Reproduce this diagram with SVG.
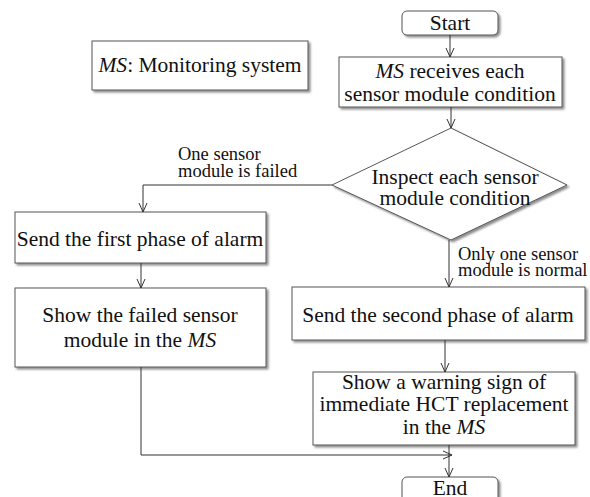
<svg xmlns="http://www.w3.org/2000/svg" width="590" height="497" viewBox="0 0 590 497">
<defs>
<filter id="sh" x="-10%" y="-10%" width="130%" height="140%">
<feDropShadow dx="2" dy="2" stdDeviation="1.2" flood-color="#000" flood-opacity="0.45"/>
</filter>
<marker id="ar" markerWidth="12" markerHeight="10" refX="10" refY="5" orient="auto" markerUnits="userSpaceOnUse">
<path d="M1,1 L10,5 L1,9" fill="none" stroke="#333" stroke-width="1"/>
</marker>
</defs>
<style>
.box{fill:#fff;stroke:#555;stroke-width:1;filter:url(#sh)}
.t{font-size:21.5px;fill:#111;text-anchor:middle}
.l{font-size:18.5px;fill:#111}
.c{fill:none;stroke:#333;stroke-width:1}
</style>
<rect width="590" height="497" fill="#fff"/>
<g font-family="Liberation Serif, Times New Roman, serif">
<g id="legend">
<rect class="box" x="92" y="41" width="216" height="49"/>
<text class="t" x="200" y="72"><tspan font-style="italic">MS</tspan>: Monitoring system</text>
</g>
<g id="start">
<rect class="box" x="402" y="11" width="96" height="24" rx="5"/>
<text class="t" x="450" y="30">Start</text>
</g>
<g id="receive">
<rect class="box" x="339" y="57" width="223" height="50"/>
<text class="t" x="450" y="78"><tspan font-style="italic">MS</tspan> receives each</text>
<text class="t" x="450" y="101">sensor module condition</text>
</g>
<g id="inspect">
<polygon class="box" points="451,128 567,185 451,240 332,185"/>
<text class="t" x="455" y="184">Inspect each sensor</text>
<text class="t" x="455" y="205">module condition</text>
</g>
<g id="first">
<rect class="box" x="15" y="212" width="251" height="51"/>
<text class="t" x="140" y="246">Send the first phase of alarm</text>
</g>
<g id="showfailed">
<rect class="box" x="15" y="288" width="251" height="79"/>
<text class="t" x="140" y="322">Show the failed sensor</text>
<text class="t" x="140" y="347">module in the <tspan font-style="italic">MS</tspan></text>
</g>
<g id="second">
<rect class="box" x="292" y="287" width="293" height="53"/>
<text class="t" x="438" y="322">Send the second phase of alarm</text>
</g>
<g id="warning">
<rect class="box" x="313" y="372" width="262" height="73"/>
<text class="t" x="444" y="389">Show a warning sign of</text>
<text class="t" x="444" y="411">immediate HCT replacement</text>
<text class="t" x="444" y="434">in the <tspan font-style="italic">MS</tspan></text>
</g>
<g id="end">
<rect class="box" x="402" y="477" width="96" height="30" rx="5"/>
<text class="t" x="450" y="495">End</text>
</g>
<g id="connectors">
<line class="c" x1="450" y1="35" x2="450" y2="57" marker-end="url(#ar)"/>
<line class="c" x1="451" y1="107" x2="451" y2="128" marker-end="url(#ar)"/>
<polyline class="c" points="332,185 143,185 143,212" marker-end="url(#ar)"/>
<line class="c" x1="449" y1="240" x2="449" y2="287" marker-end="url(#ar)"/>
<line class="c" x1="141" y1="263" x2="141" y2="288" marker-end="url(#ar)"/>
<line class="c" x1="445" y1="340" x2="445" y2="372" marker-end="url(#ar)"/>
<line class="c" x1="449" y1="445" x2="449" y2="477" marker-end="url(#ar)"/>
<polyline class="c" points="141,367 141,455 452,455" marker-end="url(#ar)"/>
<text class="l" x="178" y="160">One sensor</text>
<text class="l" x="178" y="177">module is failed</text>
<text class="l" x="458" y="260">Only one sensor</text>
<text class="l" x="458" y="276">module is normal</text>
</g>
</g>
</svg>
